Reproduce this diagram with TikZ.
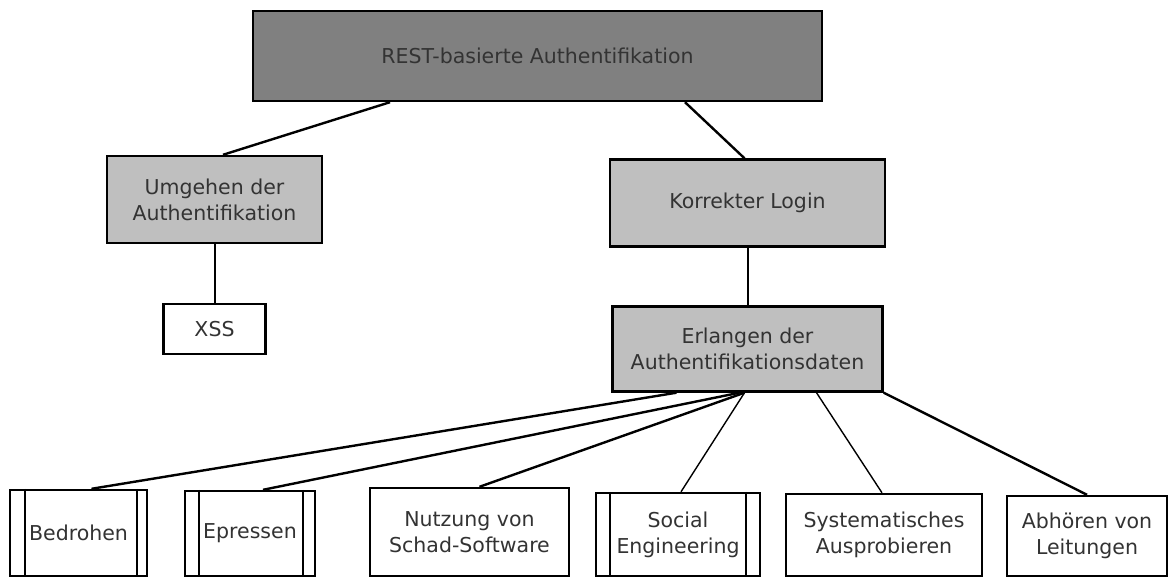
\documentclass[tikz,border=0pt]{standalone}
\usepackage{fontspec}
\setmainfont{DejaVu Sans}
\begin{document}
\begin{tikzpicture}[x=1pt,y=-1pt,
  box/.style={draw=black,line width=2.4pt,inner sep=0pt,align=center,
    text=black!80,font=\fontsize{20.5}{26}\selectfont},
  root/.style={box,fill=black!50},
  mid/.style={box,fill=black!25},
  leaf/.style={box,fill=white},
  thick link/.style={line width=2.4pt},
  mid link/.style={line width=2pt},
  thin link/.style={line width=1.4pt},
  bar/.style={line width=2.4pt}]
\useasboundingbox (0,0) rectangle (1175,578);

% tree nodes
\node[root,minimum width=569pt,minimum height=90pt] (root) at (537.5,56) {REST-basierte Authentifikation};
\node[mid,minimum width=215pt,minimum height=87pt] (bypass) at (214.5,199.5) {Umgehen der\\Authentifikation};
\node[mid,minimum width=275pt,minimum height=87pt] (login) at (747.5,203) {Korrekter Login};
\node[leaf,minimum width=102pt,minimum height=50pt] (xss) at (214.5,329) {XSS};
\node[mid,minimum width=270pt,minimum height=85pt] (creds) at (747.5,349) {Erlangen der\\Authentifikationsdaten};

% leaves of the credential branch
\node[leaf,minimum width=137pt,minimum height=86pt] (threat) at (78.5,533) {Bedrohen};
\node[leaf,minimum width=130pt,minimum height=85pt] (extort) at (250,533.5) {Epressen};
\node[leaf,minimum width=199pt,minimum height=88pt] (malware) at (469.5,532) {Nutzung von\\Schad-Software};
\node[leaf,minimum width=164pt,minimum height=83pt] (social) at (678,534.5) {Social\\Engineering};
\node[leaf,minimum width=196pt,minimum height=82pt] (brute) at (884,535) {Systematisches\\Ausprobieren};
\node[leaf,minimum width=160pt,minimum height=80pt] (sniff) at (1087,536) {Abh\"oren von\\Leitungen};

% side bars of the predefined-process boxes
\foreach \n/\l/\r in {threat/16/11, extort/15/13, social/15/15}{
  \draw[bar] ([xshift=\l pt]\n.north west) -- ([xshift=\l pt]\n.south west);
  \draw[bar] ([xshift=-\r pt]\n.north east) -- ([xshift=-\r pt]\n.south east);
}

% connectors
\draw[thick link] ([xshift=-147.5pt]root.south) -- ([xshift=8.5pt]bypass.north);
\draw[thick link] ([xshift=147.5pt]root.south) -- ([xshift=-3pt]login.north);
\draw[mid link] (bypass.south) -- (xss.north);
\draw[mid link] (login.south) -- (creds.north);

\draw[thick link] ([xshift=-71pt]creds.south) -- ([xshift=13pt]threat.north);
\draw[thick link] ([xshift=-8pt]creds.south) -- ([xshift=13pt]extort.north);
\draw[thick link] ([xshift=-3pt]creds.south) -- ([xshift=10pt]malware.north);
\draw[thin link] ([xshift=-3pt]creds.south) -- ([xshift=3pt]social.north);
\draw[thin link] ([xshift=69pt]creds.south) -- ([xshift=-2pt]brute.north);
\draw[thick link] (creds.south east) -- (sniff.north);
\end{tikzpicture}
\end{document}
